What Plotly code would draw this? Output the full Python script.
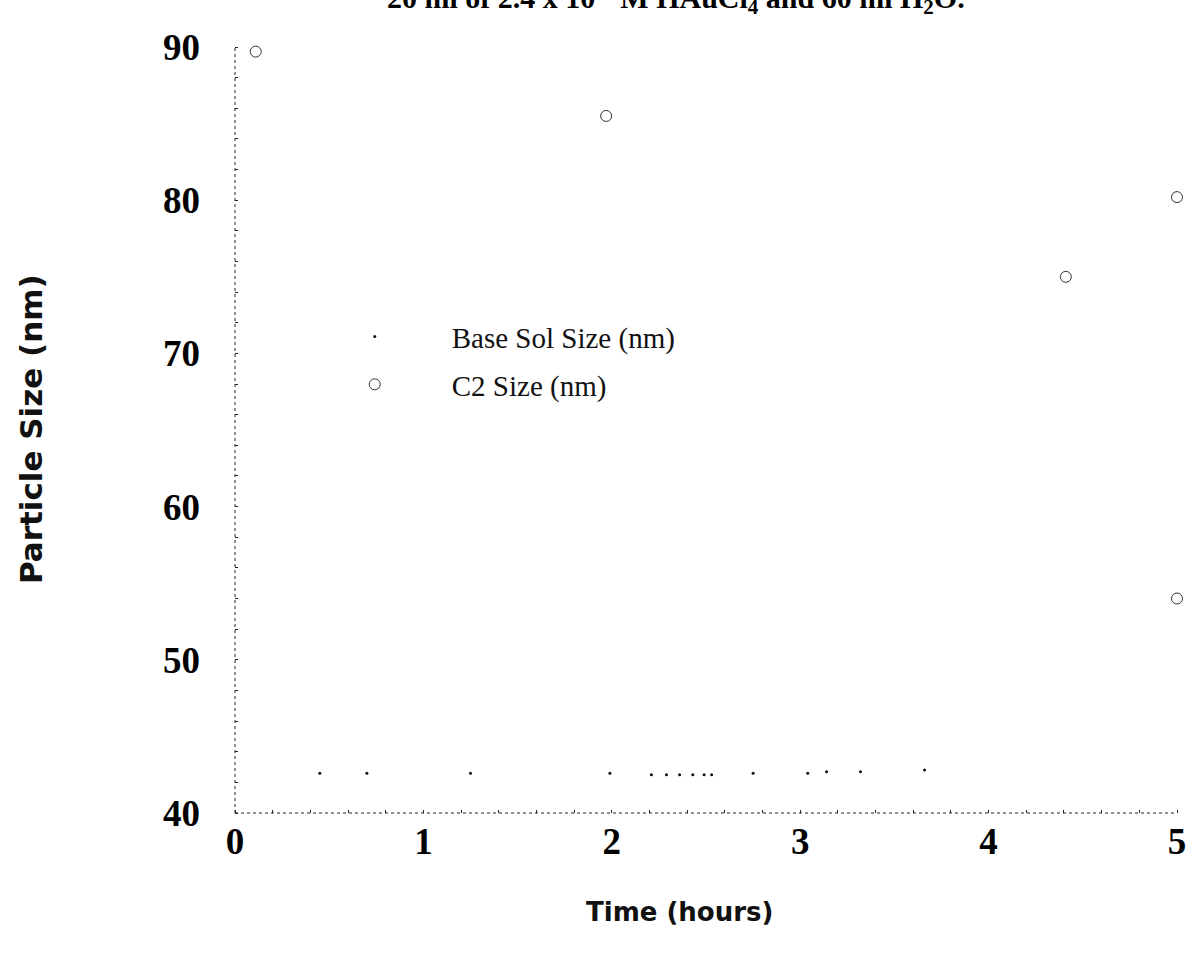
import plotly.graph_objects as go

# Base sol size readings (hours, nm)
base_time = [0.45, 0.70, 1.25, 1.99, 2.21, 2.29, 2.36, 2.43, 2.49, 2.53, 2.75, 3.04, 3.14, 3.32, 3.66]
base_size = [42.6, 42.6, 42.6, 42.6, 42.5, 42.5, 42.5, 42.5, 42.5, 42.5, 42.6, 42.6, 42.7, 42.7, 42.8]

# C2 sol size readings (hours, nm)
c2_time = [0.11, 1.97, 4.41, 5.00, 5.00]
c2_size = [89.7, 85.5, 75.0, 80.2, 54.0]

x_ticks = [0, 1, 2, 3, 4, 5]
y_ticks = [40, 50, 60, 70, 80, 90]

title_text = "20 ml of 2.4 x 10<sup>-3</sup> M HAuCl<sub>4</sub> and 60 ml H<sub>2</sub>O."
x_title = "Time (hours)"
y_title = "Particle Size (nm)"

serif = "Liberation Serif"
sans = "DejaVu Sans"

fig = go.Figure()

fig.add_trace(go.Scatter(
    x=base_time, y=base_size, mode="markers", name="Base Sol Size (nm)",
    legendgroup="base",
    marker=dict(symbol="circle", size=3, color="#111111"),
    cliponaxis=False,
))
fig.add_trace(go.Scatter(
    x=c2_time, y=c2_size, mode="markers", name="C2 Size (nm)",
    legendgroup="c2",
    marker=dict(symbol="circle-open", size=11, color="#333333", line=dict(width=1)),
    cliponaxis=False,
))

fig.update_layout(
    width=1198, height=969,
    margin=dict(l=235, r=17, t=47, b=156),
    paper_bgcolor="white", plot_bgcolor="white",
    showlegend=True,
    legend=dict(
        x=0.0666, y=0.655, xanchor="left", yanchor="top",
        bgcolor="rgba(0,0,0,0)",
        font=dict(family=serif, size=29, color="#111111"),
        itemwidth=144, tracegroupgap=7,
        itemclick=False, itemdoubleclick=False,
    ),
    xaxis=dict(
        range=[0, 5], tickvals=x_ticks, ticktext=[str(v) for v in x_ticks],
        showgrid=False, zeroline=False, showline=False,
        ticks="", ticklabelstandoff=3,
        tickfont=dict(family=serif, size=37, color="#000000", weight="bold"),
        minor=dict(dtick=0.2, ticks="inside", ticklen=3, tickcolor="#222222", tickwidth=1),
    ),
    yaxis=dict(
        range=[40, 90], tickvals=y_ticks, ticktext=[str(v) for v in y_ticks],
        showgrid=False, zeroline=False, showline=False,
        ticks="", ticklabelstandoff=34,
        tickfont=dict(family=serif, size=37, color="#000000", weight="bold"),
        minor=dict(dtick=2, ticks="inside", ticklen=3, tickcolor="#222222", tickwidth=1),
    ),
)

# Faint dotted axis lines
fig.add_shape(type="line", xref="paper", yref="paper", x0=0, x1=1, y0=0, y1=0,
              line=dict(color="#222222", width=1, dash="dot"))
fig.add_shape(type="line", xref="paper", yref="paper", x0=0, x1=0, y0=0, y1=1,
              line=dict(color="#222222", width=1, dash="dot"))

# Axis titles
fig.add_annotation(
    text=x_title, xref="paper", yref="paper", x=0.4715, y=-0.129,
    xanchor="center", yanchor="middle", showarrow=False,
    font=dict(family=sans, size=26, color="#111111", weight="bold"),
)
fig.add_annotation(
    text=y_title, xref="paper", yref="paper", x=-0.2167, y=0.501, textangle=-90,
    xanchor="center", yanchor="middle", showarrow=False,
    font=dict(family=sans, size=31, color="#111111", weight="bold"),
)

fig.add_annotation(
    text=title_text, xref="paper", yref="paper", x=0.468, y=1.064,
    xanchor="center", yanchor="middle", showarrow=False,
    font=dict(family=serif, size=30, color="#000000", weight="bold"),
)

fig.write_html("out.html")
